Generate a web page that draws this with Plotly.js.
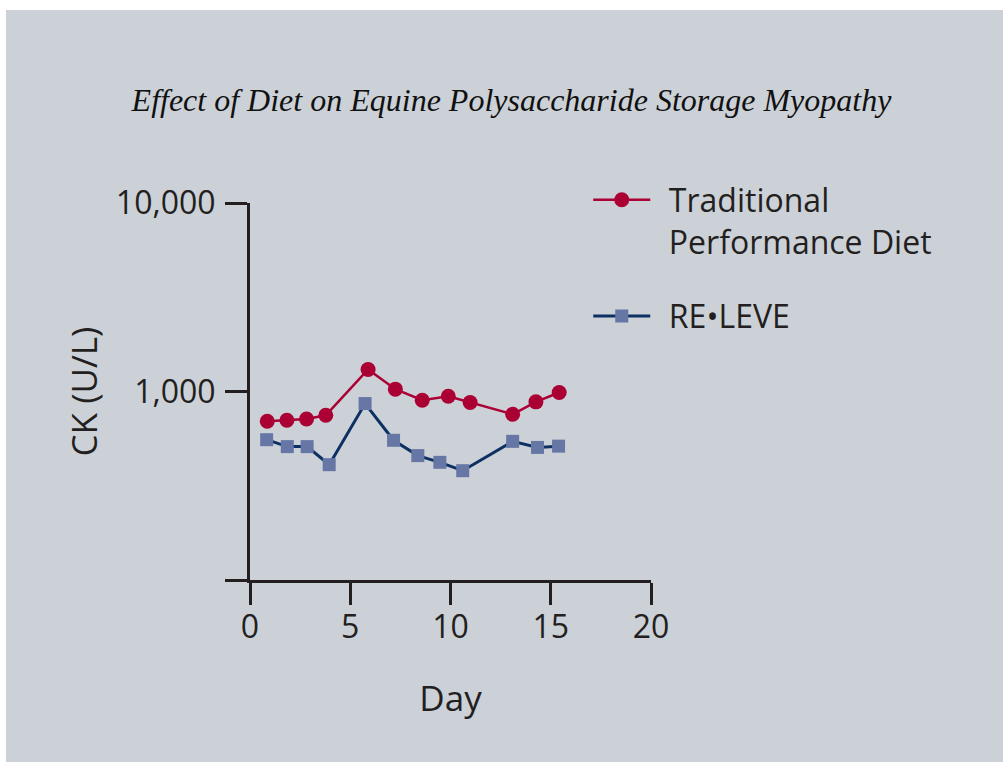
<!DOCTYPE html>
<html>
<head>
<meta charset="utf-8">
<script src="https://cdn.plot.ly/plotly-3.0.1.min.js"></script>
<style>
  html, body { margin: 0; padding: 0; background: #ffffff; }
  #chart { position: absolute; left: 6px; top: 10px; width: 997px; height: 752px; }
</style>
</head>
<body>
<div id="chart"></div>
<script>
// Data
const traditionalDays = [0.86, 1.84, 2.82, 3.78, 5.89, 7.25, 8.59, 9.89, 10.98, 13.1, 14.26, 15.42];
const traditionalCK   = [695, 704, 715, 748, 1309, 1029, 899, 944, 874, 757, 881, 988];
const releveDays = [0.83, 1.86, 2.85, 3.95, 5.74, 7.16, 8.37, 9.47, 10.61, 13.1, 14.34, 15.39];
const releveCK   = [555, 510, 510, 409, 863, 551, 457, 421, 380, 544, 505, 513];
const seriesNames = ['\u00A0\u2009Traditional<br>\u00A0\u2009Performance Diet', '\u00A0\u2009RE•LEVE'];
const xTickVals = [0, 5, 10, 15, 20];
const yTickVals = [100, 1000, 10000];
const yTickText = ['', '1,000', '10,000'];

const axisColor = '#231f20';
const fontFamily = '"Open Sans", "Noto Sans", sans-serif';

const traces = [
  {
    x: traditionalDays, y: traditionalCK, name: seriesNames[0], legendgroup: 'a',
    type: 'scatter', mode: 'lines+markers',
    line: { color: '#ab0034', width: 2.5 },
    marker: { symbol: 'circle', size: 15, color: '#ab0034' }
  },
  {
    x: releveDays, y: releveCK, name: seriesNames[1], legendgroup: 'b',
    type: 'scatter', mode: 'lines+markers',
    line: { color: '#0c3062', width: 3 },
    marker: { symbol: 'square', size: 13, color: '#6677a5' }
  }
];

const layout = {
  width: 997, height: 752,
  paper_bgcolor: '#ccd1d8', plot_bgcolor: 'rgba(0,0,0,0)',
  margin: { l: 244, r: 352, t: 193, b: 182, autoexpand: false },
  font: { family: fontFamily, color: axisColor, size: 32 },
  title: {
    text: 'Effect of Diet on Equine Polysaccharide Storage Myopathy',
    font: { family: '"Liberation Serif", "DejaVu Serif", serif', size: 32, style: 'italic', color: '#111111' },
    x: 0.507, xanchor: 'center', y: 0.881, yanchor: 'middle', xref: 'container', yref: 'container'
  },
  xaxis: {
    range: [0, 20], tickvals: xTickVals, ticks: 'outside', ticklen: 22, tickwidth: 3, tickcolor: axisColor,
    showline: true, linewidth: 3, linecolor: axisColor, showgrid: false, zeroline: false,
    tickfont: { size: 32 }, ticklabelstandoff: -5,
    title: { text: 'Day', font: { size: 35 }, standoff: 41 }
  },
  yaxis: {
    type: 'log', range: [2, 4], tickvals: yTickVals, ticktext: yTickText,
    ticks: 'outside', ticklen: 22, tickwidth: 3, tickcolor: axisColor,
    showline: true, linewidth: 3, linecolor: axisColor, showgrid: false, zeroline: false,
    tickfont: { size: 32 }, ticklabelstandoff: 3,
    title: { text: 'CK (U/L)', font: { size: 35 }, standoff: 8 }
  },
  showlegend: true,
  legend: {
    x: 0.584, xanchor: 'left', xref: 'container', y: 0.784, yanchor: 'top', yref: 'container',
    bgcolor: 'rgba(0,0,0,0)', font: { size: 32, color: axisColor }, valign: 'top',
    itemwidth: 57, tracegroupgap: 30, traceorder: 'grouped'
  }
};

Plotly.newPlot('chart', traces, layout, { displayModeBar: false, staticPlot: true });
</script>
</body>
</html>
